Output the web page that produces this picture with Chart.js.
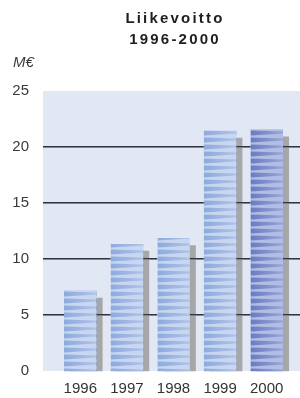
<!DOCTYPE html>
<html>
<head>
<meta charset="utf-8">
<script src="https://cdn.jsdelivr.net/npm/chart.js@4"></script>
<style>
    html, body { margin: 0; padding: 0; background: #fff; }
    #wrap { position: relative; width: 300px; height: 398px; }
    #title {
        position: absolute; left: 0; top: 7px; width: 350px;
        text-align: center; font: bold 15px "Liberation Sans", Arial, sans-serif;
        letter-spacing: 2.2px; line-height: 21px; color: #1e1e1e;
    }
    #unit {
        position: absolute; left: 13px; top: 53px;
        font: italic 15px "Liberation Sans", Arial, sans-serif; color: #3a3a3a;
    }
    canvas { position: absolute; left: 0; top: 0; }
</style>
</head>
<body>
<div id="wrap">
    <canvas id="chart" width="300" height="398"></canvas>
    <div id="title">Liikevoitto<br>1996-2000</div>
    <div id="unit">M€</div>
</div>
<script>
// Liikevoitto 1996-2000 (M€)
const years = ['1996', '1997', '1998', '1999', '2000'];
const profit = [7.2, 11.3, 11.85, 21.45, 21.55];
const shadow = [6.5, 10.7, 11.2, 20.8, 20.9];
const yTicks = [0, 5, 10, 15, 20, 25];

const canvas = document.getElementById('chart');
const ctx = canvas.getContext('2d');

// striped "coil" fill for a bar, 32px wide, repeating every 7px
function stripePattern(dark, mid, light) {
    const c = document.createElement('canvas');
    c.width = 32;
    c.height = 7;
    const g = c.getContext('2d');
    const grad = g.createLinearGradient(0, 0, 32, 0);
    grad.addColorStop(0, dark);
    grad.addColorStop(1, mid);
    g.fillStyle = grad;
    g.fillRect(0, 0, 32, 7);
    g.fillStyle = light;
    g.beginPath();
    g.moveTo(0, 2.5);
    g.lineTo(32, 0.5);
    g.lineTo(32, 5.5);
    g.lineTo(0, 4.5);
    g.closePath();
    g.fill();
    return ctx.createPattern(c, 'repeat');
}

const patterns = years.map((y, i) => i === years.length - 1
    ? stripePattern('#6a7cc1', '#98a5d8', '#b2bde4')
    : stripePattern('#8eabdd', '#adc2e8', '#c9d6f0'));

const barDecor = {
    id: 'barDecor',
    beforeDraw(chart) {
        const a = chart.chartArea;
        const c = chart.ctx;
        c.save();
        c.fillStyle = '#e1e8f4';
        c.fillRect(a.left - 14, a.top, chart.width - (a.left - 14), a.bottom - a.top);
        c.restore();
    },
    beforeDatasetDraw(chart, args) {
        const c = chart.ctx;
        if (args.index === 1) {
            // shadow sits a few pixels to the right of the coloured bar
            c.save();
            c.translate(6, 0);
        }
        if (args.index === 0) {
            const a = chart.chartArea;
            const y = chart.scales.y;
            c.save();
            yTicks.filter(v => v > 0 && v < 25).forEach(v => {
                const py = Math.round(y.getPixelForValue(v));
                c.fillStyle = '#2f3440';
                c.fillRect(a.left - 14, py - 1, chart.width, 1);
                c.fillStyle = '#80858e';
                c.fillRect(a.left - 14, py, chart.width, 1);
            });
            c.restore();
            args.meta.data.forEach((el, i) => {
                const left = Math.round(el.x - el.width / 2);
                patterns[i].setTransform(new DOMMatrix().translate(left, 0));
            });
        }
    },
    afterDatasetDraw(chart, args) {
        if (args.index === 1) chart.ctx.restore();
    }
};

new Chart(canvas, {
    type: 'bar',
    data: {
        labels: years,
        datasets: [{
            label: 'Liikevoitto',
            data: profit,
            backgroundColor: patterns,
            barThickness: 32,
            grouped: false,
            order: 0,
            clip: false
        }, {
            label: 'varjo',
            data: shadow,
            backgroundColor: '#a7a7a9',
            barThickness: 32,
            grouped: false,
            order: 1,
            clip: false
        }]
    },
    options: {
        responsive: false,
        animation: false,
        devicePixelRatio: 1,
        layout: {
            padding: { top: 91, right: 10, left: 0, bottom: 0 }
        },
        plugins: {
            legend: { display: false },
            tooltip: { enabled: false }
        },
        scales: {
            x: {
                afterFit(scale) { scale.height = 27; },
                grid: { display: false, drawTicks: false },
                border: { display: false },
                ticks: {
                    padding: 9,
                    color: '#333',
                    font: { family: '"Liberation Sans", Arial, sans-serif', size: 15 }
                }
            },
            y: {
                min: 0,
                max: 25,
                afterFit(scale) {
                    scale.width = 57;
                    scale.paddingTop = 0;
                    scale.paddingBottom = 0;
                },
                afterBuildTicks(scale) { scale.ticks = yTicks.map(v => ({ value: v })); },
                grid: { display: false, drawTicks: false },
                border: { display: false },
                ticks: {
                    padding: 28,
                    color: '#3a3a3a',
                    font: { family: '"Liberation Sans", Arial, sans-serif', size: 15 }
                }
            }
        }
    },
    plugins: [barDecor]
});
</script>
</body>
</html>
